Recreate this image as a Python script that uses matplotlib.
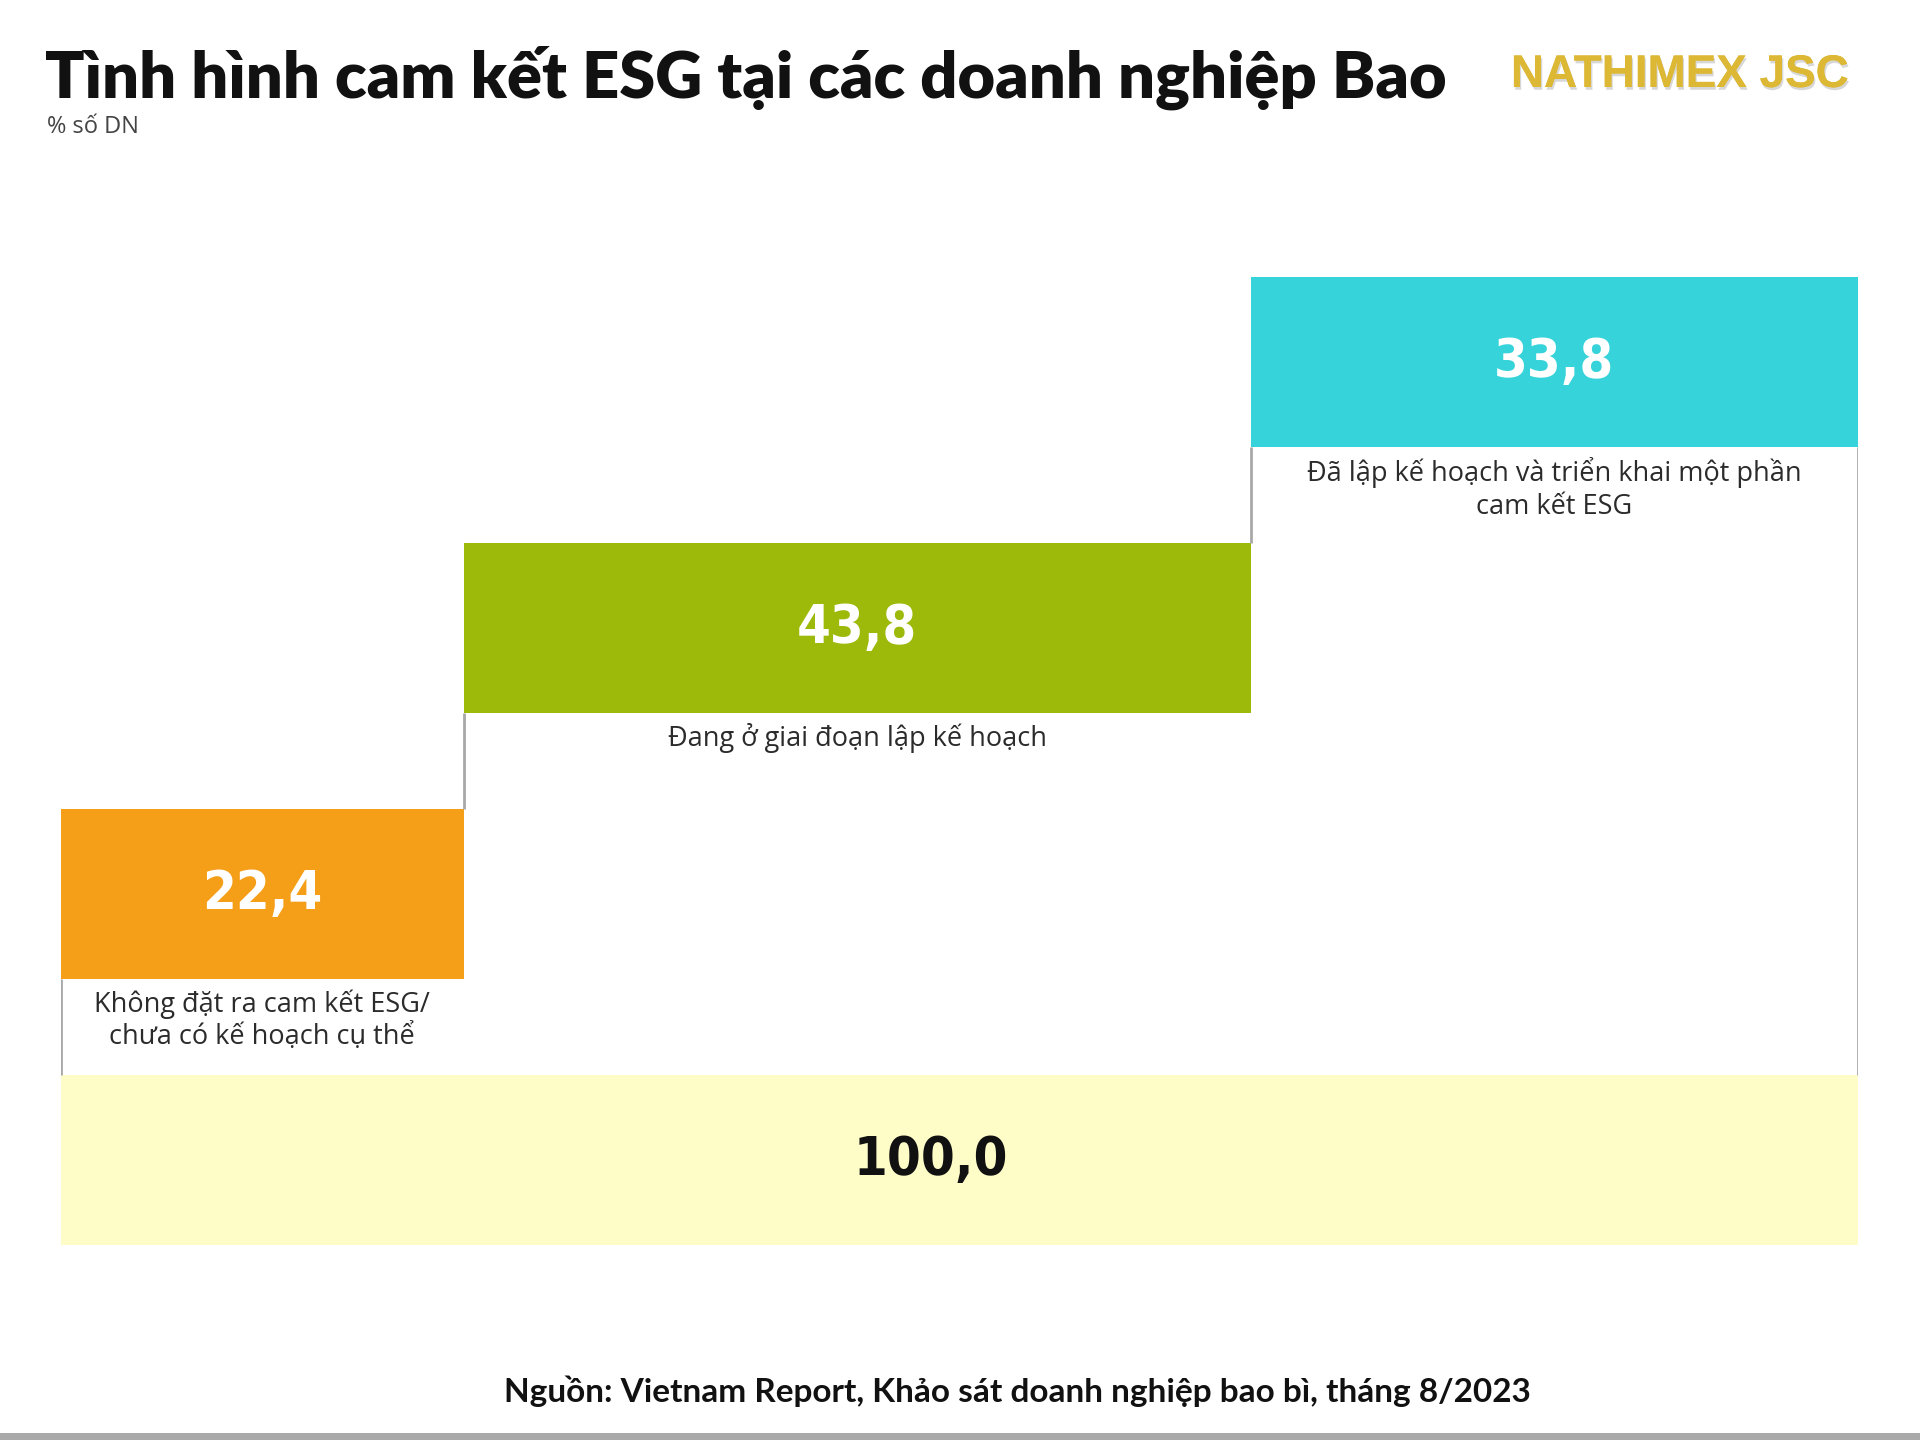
import matplotlib
matplotlib.use("Agg")
import matplotlib.pyplot as plt
import matplotlib.patheffects as pe
from matplotlib.patches import Rectangle

# Data (% số DN)
categories = [
    "Không đặt ra cam kết ESG/\nchưa có kế hoạch cụ thể",
    "Đang ở giai đoạn lập kế hoạch",
    "Đã lập kế hoạch và triển khai một phần\ncam kết ESG",
]
values = [22.4, 43.8, 33.8]
value_labels = ["22,4", "43,8", "33,8"]
total = 100.0
total_label = "100,0"
colors = ["#F59E18", "#9DB90A", "#37D3DA"]
total_color = "#FEFDC8"

title = "Tình hình cam kết ESG tại các doanh nghiệp Bao"
subtitle = "% số DN"
source = "Nguồn: Vietnam Report, Khảo sát doanh nghiệp bao bì, tháng 8/2023"
brand = "NATHIMEX JSC"

narrow = ["DejaVu Sans"]
label_font = ["Open Sans", "DejaVu Sans"]

fig = plt.figure(figsize=(19.2, 14.4), dpi=100)
fig.patch.set_facecolor("white")

# axes spans the bars: x in % of firms, y in "steps"
ax = fig.add_axes([61 / 1920, (1440 - 1245) / 1440, 1797 / 1920, (1245 - 277) / 1440])
ax.set_xlim(0, 100)
ax.set_ylim(0, 5.695)
ax.axis("off")

step = 1.565
bar_h = 1.0
gray = "#A8A8A8"

# total bar at the bottom
ax.bar(0, bar_h, width=total, bottom=0, align="edge", color=total_color, linewidth=0)
ax.text(48.4, bar_h / 2, total_label, ha="center", va="center", fontsize=39,
        fontweight="bold", fontstretch="condensed", color="#111111", family=narrow)

left = 0
for i, (cat, v, lab, c) in enumerate(zip(categories, values, value_labels, colors)):
    bottom = step * (i + 1)
    ax.bar(left, bar_h, width=v, bottom=bottom, align="edge", color=c, linewidth=0)
    xc = left + v / 2
    ax.text(xc, bottom + bar_h / 2, lab, ha="center", va="center", fontsize=39,
            fontweight="bold", fontstretch="condensed", color="white", family=narrow)
    ax.text(xc, bottom - 0.06, cat, ha="center", va="top", fontsize=19.5,
            color="#2B2B2B", family=label_font, linespacing=1.22)
    left += v

# connector lines
cum = [0, values[0], values[0] + values[1]]
ax.plot([0, 0], [bar_h, step], color=gray, lw=2, solid_capstyle="butt")
for i in range(1, 3):
    ax.plot([cum[i], cum[i]], [step * i + bar_h, step * (i + 1)], color=gray, lw=2,
            solid_capstyle="butt")
ax.plot([total, total], [bar_h, step * 3], color=gray, lw=2, solid_capstyle="butt")

# header
fig.text(45 / 1920, 1 - 98 / 1440, title, ha="left", va="baseline", fontsize=46.8,
         fontweight="heavy", color="#111111", family=["Lato", "DejaVu Sans"])
fig.text(47 / 1920, 1 - 133 / 1440, subtitle, ha="left", va="baseline", fontsize=17,
         color="#444444", family=label_font)
fig.text(1680 / 1920, 1 - 87 / 1440, brand, ha="center", va="baseline", fontsize=33,
         fontweight="bold", color="#DDB835", family=["Liberation Sans", "DejaVu Sans"],
         path_effects=[pe.withSimplePatchShadow(offset=(1, -2), shadow_rgbFace="#B0B0B0", alpha=0.5),
                       pe.Normal()])

# source
fig.text(1017 / 1920, 1 - 1402 / 1440, source, ha="center", va="baseline", fontsize=24,
         fontweight="bold", color="#111111", family=["Lato", "DejaVu Sans"])

# gray strip at the bottom edge
fig.patches.append(Rectangle((0, 0), 1, 7 / 1440, transform=fig.transFigure,
                             facecolor="#A9A9A9", edgecolor="none"))

fig.savefig("out.png", dpi=100)
